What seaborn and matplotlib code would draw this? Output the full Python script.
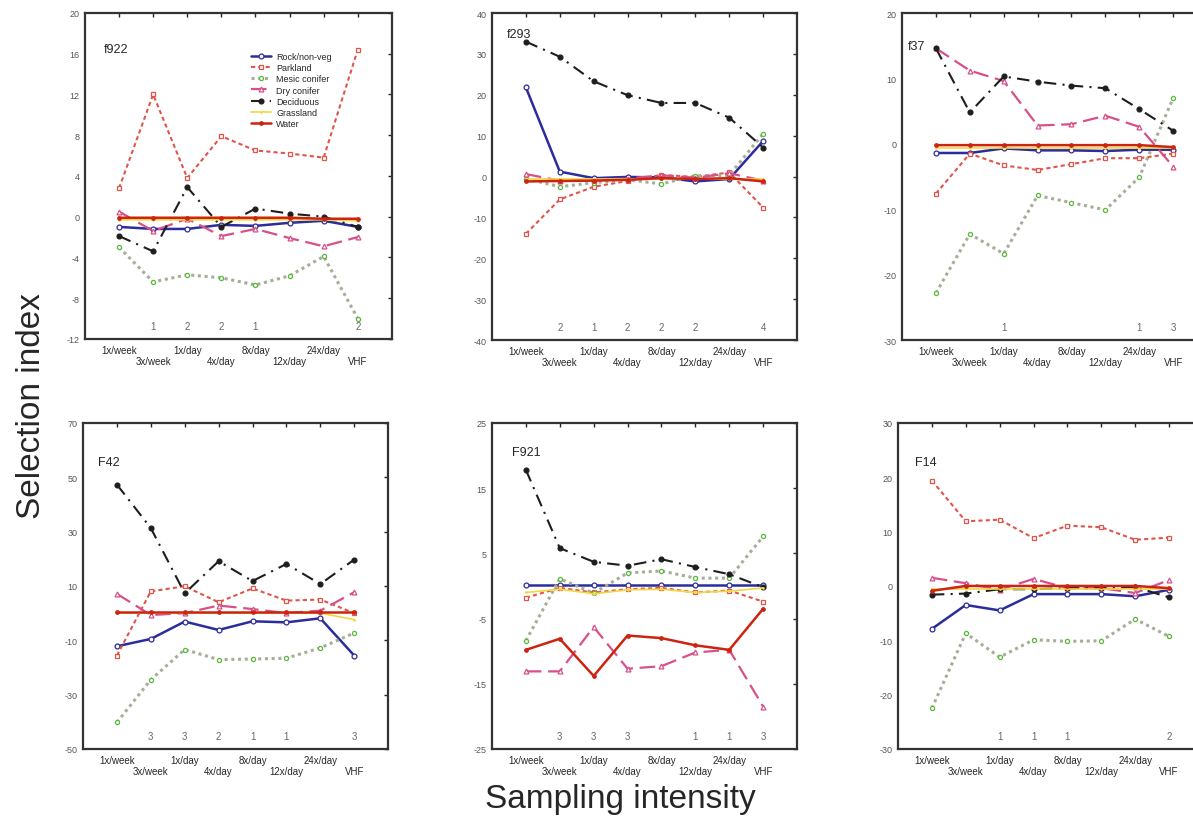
import seaborn as sns
import matplotlib.pyplot as plt
import numpy as np

# sampling intensities (x axis) and habitat classes
intensity = ['1x/week', '3x/week', '1x/day', '4x/day', '8x/day', '12x/day', '24x/day', 'VHF']
habitats = ['Rock/non-veg', 'Parkland', 'Mesic conifer', 'Dry conifer',
            'Deciduous', 'Grassland', 'Water']

# selection index per animal
f922 = {
    'Rock/non-veg': [-1.0, -1.2, -1.2, -0.8, -0.9, -0.6, -0.4, -1.0],
    'Parkland': [2.8, 12.0, 3.8, 7.9, 6.5, 6.2, 5.8, 16.4],
    'Mesic conifer': [-3.0, -6.4, -5.7, -6.0, -6.7, -5.8, -3.9, -10.0],
    'Dry conifer': [0.5, -1.4, -0.2, -1.9, -1.2, -2.1, -2.9, -2.0],
    'Deciduous': [-1.9, -3.4, 2.9, -1.0, 0.8, 0.3, 0.0, -1.0],
    'Grassland': [-0.3, -0.3, -0.3, -0.3, -0.3, -0.3, -0.3, -0.4],
    'Water': [-0.1, -0.1, -0.1, -0.1, -0.1, -0.1, -0.2, -0.2],
}
f293 = {
    'Rock/non-veg': [21.8, 1.2, -0.4, -0.1, -0.2, -1.2, -0.6, 8.7],
    'Parkland': [-14.0, -5.6, -2.5, -1.1, 0.4, -0.1, 1.0, -7.6],
    'Mesic conifer': [-0.5, -2.5, -1.5, -0.8, -1.8, 0.2, 0.3, 10.5],
    'Dry conifer': [0.6, -1.0, -0.8, -0.5, 0.3, -0.3, 0.8, -1.0],
    'Deciduous': [33.0, 29.3, 23.3, 19.9, 18.0, 18.0, 14.4, 7.1],
    'Grassland': [-0.5, -0.5, -0.5, -0.5, -0.5, -0.5, -0.5, -0.5],
    'Water': [-1.2, -1.1, -1.0, -0.8, -0.4, -0.6, -0.4, -1.2],
}
f37 = {
    'Rock/non-veg': [-1.4, -1.4, -0.7, -1.0, -1.0, -1.1, -0.9, -0.9],
    'Parkland': [-7.6, -1.5, -3.3, -4.0, -3.1, -2.2, -2.2, -1.5],
    'Mesic conifer': [-22.8, -13.8, -16.8, -7.9, -9.0, -10.1, -5.1, 7.0],
    'Dry conifer': [14.6, 11.2, 9.6, 2.8, 3.0, 4.3, 2.6, -3.5],
    'Deciduous': [14.6, 4.8, 10.3, 9.5, 8.9, 8.5, 5.3, 2.0],
    'Grassland': [-0.6, -0.6, -0.6, -0.6, -0.6, -0.6, -0.6, -0.6],
    'Water': [-0.2, -0.2, -0.2, -0.2, -0.2, -0.2, -0.2, -0.5],
}
F42 = {
    'Rock/non-veg': [-12.2, -9.5, -3.1, -6.2, -3.0, -3.4, -1.9, -15.6],
    'Parkland': [-15.6, 8.0, 9.9, 4.0, 9.1, 4.6, 5.0, 0.0],
    'Mesic conifer': [-40.2, -24.5, -13.4, -17.1, -16.9, -16.6, -12.8, -7.3],
    'Dry conifer': [7.1, -0.7, 0.0, 2.8, 1.5, 0.0, 0.9, 7.7],
    'Deciduous': [47.3, 31.3, 7.3, 19.1, 11.8, 18.1, 10.7, 19.7],
    'Grassland': [0.0, 0.0, 0.0, 0.0, 0.0, 0.0, 0.0, -2.4],
    'Water': [0.3, 0.3, 0.3, 0.3, 0.3, 0.3, 0.3, 0.3],
}
F921 = {
    'Rock/non-veg': [0.1, 0.1, 0.1, 0.1, 0.1, 0.1, 0.1, 0.1],
    'Parkland': [-1.8, -0.3, -1.0, -0.5, -0.3, -1.0, -0.7, -2.4],
    'Mesic conifer': [-8.4, 1.1, -1.1, 2.0, 2.3, 1.2, 1.2, 7.6],
    'Dry conifer': [-13.1, -13.1, -6.3, -12.7, -12.3, -10.2, -9.8, -18.5],
    'Deciduous': [17.8, 5.8, 3.7, 3.1, 4.1, 2.9, 1.8, -0.2],
    'Grassland': [-1.0, -0.5, -1.2, -0.6, -0.5, -1.0, -0.8, -0.3],
    'Water': [-9.8, -8.1, -13.8, -7.6, -8.0, -9.1, -9.8, -3.5],
}
F14 = {
    'Rock/non-veg': [-7.9, -3.5, -4.5, -1.5, -1.5, -1.5, -1.9, -0.7],
    'Parkland': [19.4, 11.9, 12.2, 8.8, 11.1, 10.8, 8.5, 8.9],
    'Mesic conifer': [-22.5, -8.7, -13.1, -9.9, -10.2, -10.1, -6.1, -9.3],
    'Dry conifer': [1.5, 0.5, -0.7, 1.3, -0.4, -0.4, -1.3, 1.1],
    'Deciduous': [-1.6, -1.4, -0.6, -0.6, -0.4, -0.4, -0.2, -2.1],
    'Grassland': [-0.5, -0.5, -0.5, -0.5, -0.5, -0.5, -0.5, -0.5],
    'Water': [-0.9, 0.0, 0.0, 0.0, 0.0, 0.0, 0.0, -0.4],
}

panel_names = ['f922', 'f293', 'f37', 'F42', 'F921', 'F14']
panel_data = [f922, f293, f37, F42, F921, F14]
panel_ylim = [(-12, 20), (-40, 40), (-30, 20), (-50, 70), (-25, 25), (-30, 30)]
panel_ystep = [4, 10, 10, 20, 10, 10]
# small counts printed above the x axis
panel_counts = [
    ['', '1', '2', '2', '1', '', '', '2'],
    ['', '2', '1', '2', '2', '2', '', '4'],
    ['', '', '1', '', '', '', '1', '3'],
    ['', '3', '3', '2', '1', '1', '', '3'],
    ['', '3', '3', '3', '', '1', '1', '3'],
    ['', '', '1', '1', '1', '', '', '2'],
]

styles = {
    'Rock/non-veg': dict(color='#2c2c9c', linestyle='-', marker='o', mfc='white', lw=1.8, ms=3.5),
    'Parkland': dict(color='#e0554a', linestyle=(0, (2, 1.5)), marker='s', mfc='white', lw=1.5, ms=3.5),
    'Mesic conifer': dict(color='#a7ae98', linestyle=(0, (1, 1.2)), marker='o', mfc='white', lw=2.2, ms=3,
                          mec='#5cb83c'),
    'Dry conifer': dict(color='#d8508a', linestyle=(0, (7, 3)), marker='^', mfc='white', lw=1.6, ms=3.5),
    'Deciduous': dict(color='#1e1e1e', linestyle=(0, (6, 3, 1, 3)), marker='o', mfc='#1e1e1e', lw=1.5, ms=3.5),
    'Grassland': dict(color='#f2d840', linestyle='-', marker='.', mfc='#f2d840', lw=1.2, ms=2),
    'Water': dict(color='#cc2410', linestyle='-', marker='o', mfc='#cc2410', lw=1.8, ms=2.5),
}

sns.set_style('white')
plt.rcParams['font.family'] = ['Liberation Sans', 'DejaVu Sans']
plt.rcParams['axes.unicode_minus'] = False

fig = plt.figure(figsize=(11.93, 8.2), dpi=100)
positions = [
    [0.0712, 0.5854, 0.2573, 0.3976],
    [0.4124, 0.5841, 0.2557, 0.3988],
    [0.7561, 0.5841, 0.2557, 0.3988],
    [0.0696, 0.0854, 0.2557, 0.3976],
    [0.4124, 0.0854, 0.2557, 0.3976],
    [0.7527, 0.0854, 0.2557, 0.3976],
]
title_pos = [(0.06, 0.89), (0.05, 0.935), (0.02, 0.9), (0.05, 0.88), (0.065, 0.91), (0.055, 0.88)]

x = np.arange(len(intensity))
for i, (name, data) in enumerate(zip(panel_names, panel_data)):
    ax = fig.add_axes(positions[i])
    for hab in habitats:
        st = styles[hab]
        sns.lineplot(x=x, y=data[hab], ax=ax, color=st['color'], linestyle=st['linestyle'],
                     marker=st['marker'], markersize=st['ms'], markerfacecolor=st['mfc'],
                     markeredgecolor=st.get('mec', st['color']), markeredgewidth=0.9,
                     linewidth=st['lw'], label=hab if i == 0 else None, legend=False)
    ax.set_xlim(-1, 8)
    lo, hi = panel_ylim[i]
    ax.set_ylim(lo, hi)
    ax.set_yticks(np.arange(lo, hi + 0.1, panel_ystep[i]))
    ax.set_xticks(x)
    ax.set_xticklabels([lab if j % 2 == 0 else '\n' + lab for j, lab in enumerate(intensity)])
    ax.tick_params(axis='x', labelsize=7, direction='in', top=True, length=3, width=1, pad=4)
    ax.tick_params(axis='y', labelsize=6.5, labelcolor='#555555', direction='in', right=True,
                   length=3, width=1, pad=4)
    ax.set_xlabel('')
    ax.set_ylabel('')
    for sp in ax.spines.values():
        sp.set_visible(True)
        sp.set_color('#333333')
        sp.set_linewidth(1.6)
    ax.text(title_pos[i][0], title_pos[i][1], name, transform=ax.transAxes,
            fontsize=9, ha='left', va='center')
    trans = ax.get_xaxis_transform()
    for j, c in enumerate(panel_counts[i]):
        if c:
            ax.text(j, 0.04, c, transform=trans, fontsize=7, color='#666666',
                    ha='center', va='center')
    if i == 0:
        ax.legend(loc='upper left', bbox_to_anchor=(0.52, 0.9), frameon=False, fontsize=6.5,
                  handlelength=2.2, labelspacing=0.25, handletextpad=0.6, borderpad=0.2)

fig.text(0.026, 0.505, 'Selection index', rotation=90, fontsize=24, ha='center', va='center')
fig.text(0.52, 0.025, 'Sampling intensity', fontsize=24, ha='center', va='center')

plt.savefig('out.png', dpi=100)
